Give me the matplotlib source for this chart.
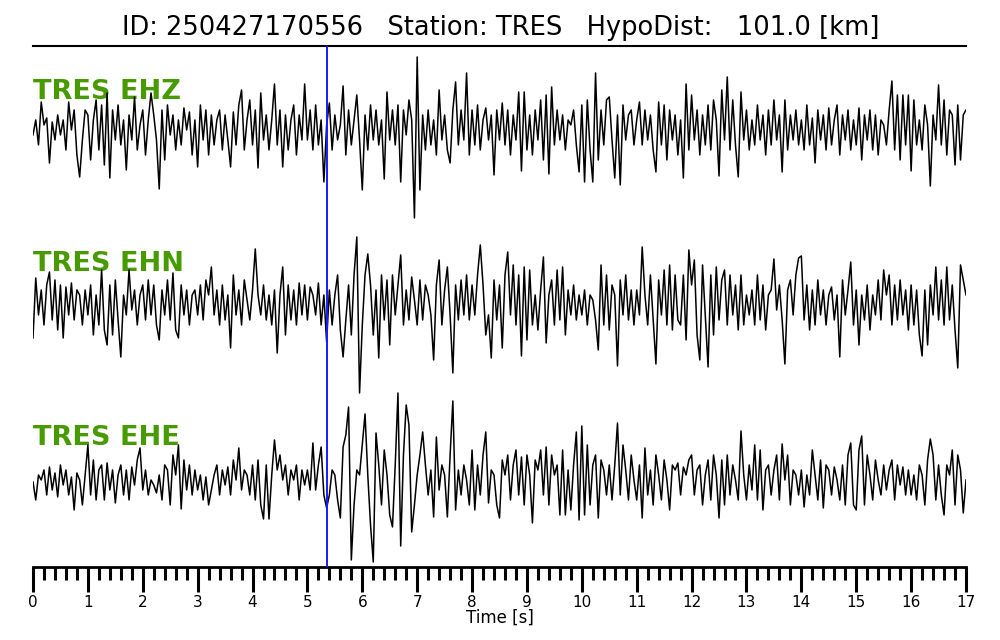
import numpy as np
import matplotlib
matplotlib.use('Agg')
import matplotlib.pyplot as plt
from matplotlib.ticker import MultipleLocator

# event info
event_id = '250427170556'
station = 'TRES'
hypo_dist = 101.0
p_pick = 5.36  # [s]
dt = 0.05  # sample step [s]

channels = ['EHZ', 'EHN', 'EHE']

# traces (amplitude, arbitrary units)
ehz = [
    -5, 10, -15, 28, 5, 12, -33, 8, -10, 15, -5, 10, -20, 28, 0, 20, -25, -47, -10, 20,
    15, -30, 10, 30, -20, 25, -35, 37, -48, 20, -10, 25, -15, 10, -40, 15, -10, 33, -20, 5,
    20, -25, 10, 37, 15, -10, -59, 20, -30, 25, -5, 15, -20, 10, -15, 22, 0, 18, -25, 10,
    -37, 25, -10, 20, -25, 15, -15, 10, 20, -20, 15, -10, -37, 18, -15, 25, 40, -20, 10, 30,
    -15, 20, -38, 37, -10, 15, -20, 10, 46, -15, 20, -37, 15, -20, 10, 25, -25, 15, -10, 46,
    -10, 20, -20, 25, -15, 10, -52, 5, 27, -20, 15, -10, 5, 44, -25, 20, -15, 10, 35, -10,
    -60, 15, -20, 25, -10, 20, -15, 10, -49, 38, -10, 20, -15, 25, -52, 20, -5, 30, 10, -88,
    73, -60, 15, -20, 20, -15, 10, -25, 40, -10, 15, -20, -33, 20, 48, -15, 20, -10, 57, -25,
    20, -15, 25, -20, 10, 22, -10, 15, -45, 20, -10, 27, -15, 20, -25, 15, -10, 38, -41, 38,
    -20, 15, -25, 20, -10, 30, -30, 35, -44, 43, -15, 20, -10, 15, -20, 10, 5, 20, -15, -42,
    25, -52, 30, -20, -52, 57, -30, 20, -15, 30, 33, -10, -48, 15, -55, 25, -10, 15, 20, -15,
    10, 28, -15, 20, -10, 15, -20, -42, 28, -15, 25, -30, 20, -10, 15, -25, 10, -48, 46, -20,
    35, -10, 20, -25, 15, -15, 25, -20, 30, 10, -46, 40, -10, 53, -20, 30, -15, -47, 38, -10,
    20, -20, 10, -15, 25, -10, 15, -25, 20, -15, 30, -10, 15, -42, 30, -20, 15, -10, 20, -15,
    10, -20, 25, -15, 12, -33, 20, -10, 15, -20, 22, -15, 10, 25, -25, 15, -10, 20, -20, 10,
    -15, 22, -30, 15, -10, 20, -20, 15, -25, 10, 5, -15, 20, 49, -20, 35, -30, 35, -15, 35,
    -41, 30, -15, 10, -20, 25, 5, -56, 15, -10, 45, -15, 30, -25, 20, 15, -35, 25, -30, 15, 20,
]
ehn = [
    -33, 27, -10, 15, -20, 20, 33, -15, 25, -25, 20, -33, 18, -10, 22, -15, 15, 10, -20, 15,
    -10, 20, -30, 10, -20, 35, -25, -40, 20, -30, 25, -15, -52, 10, -10, 35, -5, 15, -20, 10,
    20, -15, 25, -10, 20, -20, -35, 15, -10, 25, -15, 32, -25, -33, 20, -10, 15, -20, 10, 15,
    -10, 20, -15, 25, 10, 38, -10, 15, -20, 20, -15, 10, -43, 30, -10, 15, -20, 25, 5, -15,
    15, 56, 10, -10, 20, -15, 10, -20, 15, -48, 10, 38, -30, 20, -15, 15, -20, 22, -10, 20,
    -15, 18, 10, -10, 22, -20, 10, -37, 15, -20, 10, 30, -25, -52, -15, 20, -30, 30, 68, -88,
    -20, 30, 51, 20, -30, 15, -53, 30, -15, 25, -40, 30, -10, 20, 50, -20, 15, -15, 28, 5,
    -20, 25, -15, 20, 10, -10, -55, 20, 45, -20, 15, 38, -10, -68, 20, -15, 25, -10, 30, -15,
    20, -10, 30, 60, 20, -30, -10, -53, 25, -15, 20, -43, 30, 53, -10, 40, -20, 30, -51, 38,
    -35, 35, -20, 10, -25, 15, 48, -38, 10, 25, -20, 35, -15, 38, -30, 15, -10, 20, -15, 10,
    -10, 15, -20, 10, 5, -15, -45, 40, -20, 30, -25, 20, 10, -61, 25, -10, 30, -15, 15, -20,
    15, -10, 58, 10, -20, 30, -15, -59, 25, -10, 35, -20, 40, -25, 30, -15, -20, 30, -35, 55,
    20, 45, -30, -55, 40, -10, -62, 30, -30, 38, -15, 25, 35, -20, 30, -10, 20, -25, 30, -20,
    10, -10, 15, -20, 30, -15, 20, -25, 10, 15, 46, -5, 20, -15, -59, 15, 25, -10, 30, 47,
    49, -15, 20, -25, 15, -20, 25, -10, 15, -20, 10, 18, -15, 10, -52, 25, -10, 15, 43, -20,
    15, -40, 10, -15, 20, -25, 10, -10, 25, -15, 35, 10, 30, -20, 20, -15, 25, -10, 15, -25,
    20, -20, 15, -30, -51, 15, -40, 20, -10, 38, -15, 25, -20, 38, -15, 20, -25, -63, 40, 25, 10,
]
ehe = [
    3, -15, 10, 5, 15, -10, 18, -5, 12, -12, 20, 0, 15, -10, 8, -25, 12, 5, -20, 10,
    40, -10, 25, -15, 15, 20, -15, 22, -5, 15, -18, 10, 20, -10, 15, -15, 18, 0, 25, 37,
    -5, 15, -10, 5, 0, -8, 10, -15, 20, 15, -20, 30, 10, 40, -24, 25, -5, 20, -10, 15,
    -5, 10, -15, 8, -20, -5, 10, 20, -10, 15, 0, 18, -10, 25, 5, 37, -5, 15, 10, -10,
    20, -15, 25, -20, -34, 20, -34, 10, 45, 15, 30, 5, 20, -10, 15, 5, 20, -15, 15, 0,
    15, -5, 42, -5, 20, 38, -10, -23, -10, 15, 10, -15, -33, 38, 50, 78, -75, -20, 15, 10,
    40, 71, 10, -40, -77, 52, 20, -20, 35, 10, -30, -42, 20, 92, -61, 30, 80, 60, -47, -20,
    10, 30, 53, 20, -10, 15, -32, 48, -5, 20, 10, -32, 30, 84, -25, 15, -10, 20, 5, -20,
    35, -25, 20, -10, 30, 53, -18, 15, 10, -20, -33, 25, 10, 30, -15, 20, 35, -10, 28, -20,
    30, 10, -38, 25, 15, 35, -10, 38, -20, 30, 10, 20, -30, 35, -30, 15, -25, 20, 53, -35,
    59, -30, 40, -20, 20, 30, -33, 25, 15, -10, 20, -15, 20, 62, -10, 40, 15, -15, 30, 5,
    -15, 20, -33, 37, -10, 15, -20, 30, 10, -15, 25, 5, -25, 20, 15, 22, -10, 18, 10, 25,
    30, -10, 15, 20, -20, 10, 25, -15, 30, 10, -33, 25, -20, 30, -10, 20, 5, -15, 54, 10,
    -15, 20, -5, 40, -15, 35, -25, 15, 20, -10, 15, 30, -15, 41, 5, 30, -20, 15, 10, -10,
    15, -22, 10, -10, 35, 10, -15, 25, -23, 20, 15, -10, 18, 5, -15, 20, -20, 30, 42, -20,
    -25, 35, 49, -20, 30, 10, -15, 25, 5, -10, 20, -5, 15, 25, -15, 20, 0, 18, -10, 15,
    -10, 10, -15, 20, 10, -20, 25, 46, 30, -15, 20, -10, -30, 20, 10, 35, -20, 30, 15, -28, 5,
]
traces = [ehz, ehn, ehe]

# vertical placement of each trace (centre line)
offsets = [-84, -259, -439]
label_y = [-46, -218, -392]

fig = plt.figure(figsize=(10, 6.4), dpi=100)
ax = fig.add_axes([0.033, 0.1141, 0.933, 0.8141])

for tr, off, ch, ly in zip(traces, offsets, channels, label_y):
    tr = np.asarray(tr, dtype=float)
    t = np.arange(len(tr)) * dt
    ax.plot(t, tr + off, color='black', lw=1.1, zorder=3)
    ax.text(0, ly, f'{station} {ch}', color='#479a00', fontsize=19.5,
            fontweight='bold', va='center', ha='left', zorder=2)

ax.axvline(p_pick, color='#1a1aff', lw=1.4, zorder=4)

ax.set_xlim(0, 17)
ax.set_ylim(-521, 0)

# only top line (under title) and the time ruler at bottom
ax.spines['left'].set_visible(False)
ax.spines['right'].set_visible(False)
ax.spines['top'].set_linewidth(1.5)
ax.spines['bottom'].set_linewidth(2)
ax.set_yticks([])
ax.xaxis.set_major_locator(MultipleLocator(1))
ax.xaxis.set_minor_locator(MultipleLocator(0.2))
ax.tick_params(axis='x', which='major', length=18, width=2.2, labelsize=11, pad=2)
ax.tick_params(axis='x', which='minor', length=9, width=2.2)
ax.set_xlabel('Time [s]', fontsize=12, labelpad=-1)

fig.text(0.501, 0.957, f'ID: {event_id}   Station: {station}   HypoDist:   {hypo_dist:.1f} [km]',
         ha='center', va='center', fontsize=18.5)

fig.savefig('out.png', dpi=100)
